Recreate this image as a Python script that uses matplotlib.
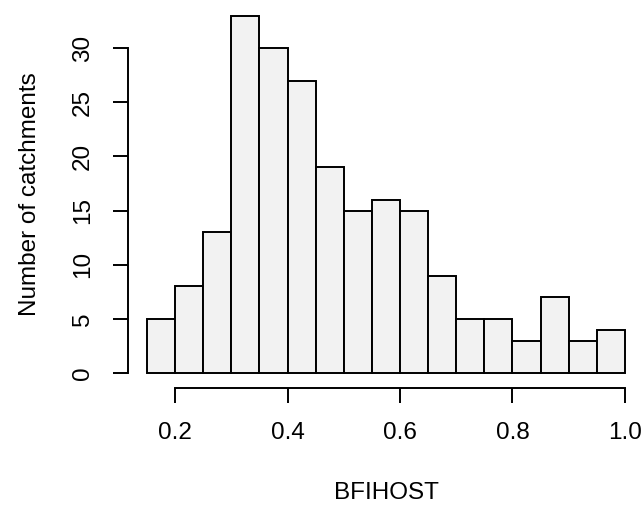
import numpy as np
import matplotlib
matplotlib.use("Agg")
import matplotlib.pyplot as plt

plt.rcParams['font.family'] = ['Liberation Sans', 'DejaVu Sans']

# histogram of BFIHOST, bin width 0.05
bin_edges = [0.15, 0.20, 0.25, 0.30, 0.35, 0.40, 0.45, 0.50, 0.55,
             0.60, 0.65, 0.70, 0.75, 0.80, 0.85, 0.90, 0.95, 1.00]
counts = [5, 8, 13, 33, 30, 27, 19, 15, 16, 15, 9, 5, 5, 3, 7, 3, 4]
x_ticks = [0.2, 0.4, 0.6, 0.8, 1.0]
x_tick_labels = ['0.2', '0.4', '0.6', '0.8', '1.0']
y_ticks = [0, 5, 10, 15, 20, 25, 30]

fig = plt.figure(figsize=(6.42, 5.07), dpi=100)
ax = fig.add_axes([0.199, 0.2357, 0.8043, 0.7619])

left = np.array(bin_edges[:-1])
width = np.diff(bin_edges)
ax.bar(left, counts, width=width, align='edge', color='#f2f2f2',
       edgecolor='black', linewidth=1.4)

ax.set_xlim(0.116, 1.034)
ax.set_ylim(-1.32, 34.32)

# R-style detached axes
for s in ['top', 'right']:
    ax.spines[s].set_visible(False)
ax.spines['left'].set_bounds(0, 30)
ax.spines['bottom'].set_bounds(0.2, 1.0)
for s in ['left', 'bottom']:
    ax.spines[s].set_linewidth(1.4)
    ax.spines[s].set_capstyle('projecting')

ax.set_xticks(x_ticks)
ax.set_xticklabels(x_tick_labels)
ax.set_yticks(y_ticks)
ax.tick_params(axis='both', length=10.5, width=1.4, labelsize=17.5)
ax.tick_params(axis='x', pad=14)
ax.tick_params(axis='y', labelrotation=90, pad=14)
for lab in ax.get_yticklabels():
    lab.set_verticalalignment('center')

ax.set_xlabel('BFIHOST', fontsize=17.5, labelpad=28)
ax.set_ylabel('Number of catchments', fontsize=17.5, labelpad=22)

fig.savefig('out.png', dpi=100)
